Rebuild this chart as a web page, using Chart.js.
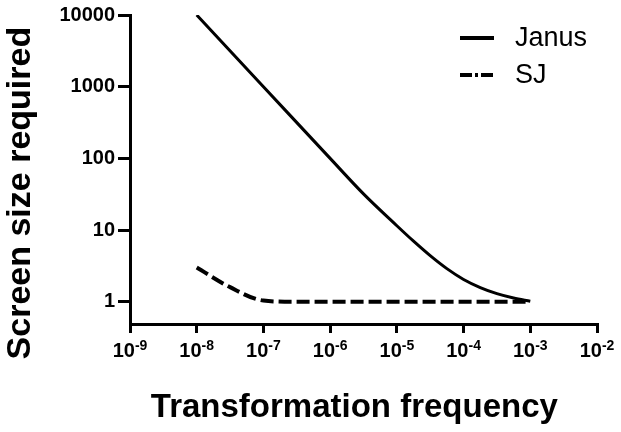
<!DOCTYPE html>
<html>
<head>
<meta charset="utf-8">
<script src="https://cdn.jsdelivr.net/npm/chart.js@4/dist/chart.umd.min.js"></script>
<style>
  html, body { margin: 0; padding: 0; background: #fff; }
</style>
</head>
<body>
<canvas id="chart" width="621" height="432"></canvas>
<script>
// transformation frequency (x) and screen size required (y)
const freqs = [1e-8, 1e-7, 1e-6, 3.16e-6, 1e-5, 1.78e-5, 3.16e-5, 5.62e-5, 1e-4, 1.78e-4, 3.16e-4, 5.62e-4, 1e-3];
const janus = [10000, 1000, 100, 32, 11.5, 7.0, 4.4, 2.9, 2.05, 1.58, 1.3, 1.13, 1.02];
const sjFreqs = [1e-8, 3.16e-8, 1e-7, 3.16e-7, 1e-6, 1e-5, 1e-4, 1e-3];
const sj = [3, 1.6, 1.04, 1, 1, 1, 1, 1];

const xTicks = [1e-9, 1e-8, 1e-7, 1e-6, 1e-5, 1e-4, 1e-3, 1e-2];
const yTicks = [1, 10, 100, 1000, 10000];

const toPts = (xs, ys) => xs.map((x, i) => ({ x: x, y: ys[i] }));
const FAMILY = 'Arial, "Liberation Sans", sans-serif';

// x tick labels as 10 with a raised exponent, placed by the x scale
const powerLabels = {
    id: 'powerLabels',
    afterDraw(chart) {
        const ctx = chart.ctx;
        const xs = chart.scales.x;
        const base = xs.top + 33;
        ctx.save();
        ctx.fillStyle = '#000';
        ctx.textBaseline = 'alphabetic';
        xTicks.forEach(v => {
            const px = xs.getPixelForValue(v);
            const exp = '-' + String(Math.round(-Math.log10(v)));
            ctx.font = 'bold 20px ' + FAMILY;
            const wb = ctx.measureText('10').width;
            ctx.font = 'bold 14px ' + FAMILY;
            const we = ctx.measureText(exp).width;
            const x0 = px - (wb + we) / 2;
            ctx.font = 'bold 20px ' + FAMILY;
            ctx.fillText('10', x0, base);
            ctx.font = 'bold 14px ' + FAMILY;
            ctx.fillText(exp, x0 + wb, base - 7);
        });
        ctx.restore();
    }
};

// legend drawn inside the plot, top right
const legendPlugin = {
    id: 'insideLegend',
    afterDraw(chart) {
        const ctx = chart.ctx;
        const items = [
            { label: 'Janus', dash: [], y: 38 },
            { label: 'SJ', dash: [12, 3, 3, 3], y: 75 }
        ];
        ctx.save();
        items.forEach(it => {
            ctx.strokeStyle = '#000';
            ctx.lineWidth = 4;
            ctx.setLineDash(it.dash);
            ctx.beginPath();
            ctx.moveTo(460, it.y);
            ctx.lineTo(494, it.y);
            ctx.stroke();
            ctx.setLineDash([]);
            ctx.fillStyle = '#000';
            ctx.font = '27px ' + FAMILY;
            ctx.textBaseline = 'middle';
            ctx.fillText(it.label, 515, it.y + 1);
        });
        ctx.restore();
    }
};

new Chart(document.getElementById('chart'), {
    type: 'line',
    data: {
        datasets: [
            {
                label: 'Janus',
                data: toPts(freqs, janus),
                borderColor: '#000',
                borderWidth: 3,
                pointRadius: 0,
                cubicInterpolationMode: 'monotone',
                fill: false
            },
            {
                label: 'SJ',
                data: toPts(sjFreqs, sj),
                borderColor: '#000',
                borderWidth: 4,
                borderDash: [13, 5],
                pointRadius: 0,
                cubicInterpolationMode: 'monotone',
                fill: false
            }
        ]
    },
    options: {
        responsive: false,
        animation: false,
        layout: { padding: { top: 14, right: 24, left: 0, bottom: 0 } },
        plugins: { legend: { display: false }, tooltip: { enabled: false } },
        scales: {
            x: {
                type: 'logarithmic',
                min: 1e-9,
                max: 1e-2,
                afterBuildTicks: (s) => { s.ticks = xTicks.map(v => ({ value: v })); },
                afterFit: (s) => { s.height = 108; },
                grid: { display: true, drawOnChartArea: false, drawTicks: true, tickLength: 9, color: '#000', lineWidth: 3 },
                border: { color: '#000', width: 3 },
                ticks: { display: false },
                title: {
                    display: true,
                    text: 'Transformation frequency  ',
                    color: '#000',
                    font: { family: FAMILY, size: 33, weight: 'bold' },
                    padding: { top: 10, bottom: 4 }
                }
            },
            y: {
                type: 'logarithmic',
                min: 0.49,
                max: 10000,
                afterBuildTicks: (s) => { s.ticks = yTicks.map(v => ({ value: v })); },
                afterFit: (s) => { s.width = 130; },
                grid: { display: true, drawOnChartArea: false, drawTicks: true, tickLength: 12, color: '#000', lineWidth: 3 },
                border: { color: '#000', width: 3 },
                ticks: {
                    color: '#000',
                    font: { family: FAMILY, size: 20, weight: 'bold' },
                    padding: 3,
                    autoSkip: false,
                    callback: (v) => String(v)
                },
                title: {
                    display: true,
                    text: 'Screen size required     ',
                    color: '#000',
                    font: { family: FAMILY, size: 34, weight: 'bold' },
                    padding: { top: 0, bottom: 0 }
                }
            }
        }
    },
    plugins: [powerLabels, legendPlugin]
});
</script>
</body>
</html>
